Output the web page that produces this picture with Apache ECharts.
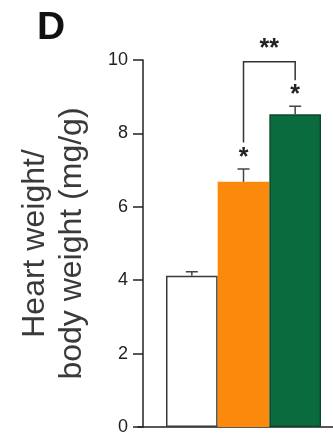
<!DOCTYPE html>
<html>
<head>
<meta charset="utf-8">
<script src="https://cdn.jsdelivr.net/npm/echarts@6/dist/echarts.min.js"></script>
<style>
html,body{margin:0;padding:0;background:#fff}
#chart{width:333px;height:438px}
</style>
</head>
<body>
<div id="chart"></div>
<script>
// groups (no x labels in the panel)
const groups = ['Control', 'Group 2', 'Group 3']
const means = [4.12, 6.68, 8.52]
const errs = [0.11, 0.35, 0.22]
const barColors = ['#ffffff', '#fb8a0c', '#0a6b3e']
const borderColors = ['#3a3a3a', '#fb8a0c', '#0d4a2c']

// stars over bars
const stars = ['', '*', '*']
const starLevels = [0, 7.5, 9.2]

// bracket between group 1 and 2: [left end, top, right end]
const bracketGroups = [1, 2]
const bracketLevels = [7.75, 9.95, 9.45]
const bracketLabel = '**'
const bracketLabelLevel = 10.45

const FONT = 'Liberation Sans, Arial, sans-serif'
const INK = '#222'

var chart = echarts.init(document.getElementById('chart'))

var option = {
  animation: false,
  title: {
    text: 'D',
    left: 32,
    top: 4,
    textStyle: { fontSize: 39, fontWeight: 'bold', fontFamily: FONT, color: '#111' }
  },
  grid: [
    { left: 166, right: 12, top: 60, bottom: 11 },
    { left: 138, right: 0, top: 60, bottom: 11 }
  ],
  xAxis: [
    {
      type: 'category',
      data: groups,
      gridIndex: 0,
      axisLine: { show: false },
      axisTick: { show: false },
      axisLabel: { show: false }
    },
    {
      type: 'value',
      gridIndex: 1,
      axisLine: { show: true, lineStyle: { color: INK, width: 1.5 } },
      axisTick: { show: false },
      axisLabel: { show: false },
      splitLine: { show: false }
    }
  ],
  yAxis: [
    {
      type: 'value',
      gridIndex: 0,
      min: 0,
      max: 10,
      interval: 2,
      offset: 23,
      name: 'Heart weight/\nbody weight (mg/g)',
      nameLocation: 'middle',
      nameGap: 52,
      nameTextStyle: { fontSize: 32, lineHeight: 37, fontFamily: FONT, color: '#3a3a3a' },
      axisLine: { show: true, lineStyle: { color: INK, width: 1.5 } },
      axisTick: { show: true, length: 10, lineStyle: { color: INK, width: 1.5 } },
      axisLabel: { fontSize: 18, margin: 15, fontFamily: FONT, color: INK },
      splitLine: { show: false }
    },
    { type: 'value', gridIndex: 1, show: false }
  ],
  series: [
    {
      type: 'bar',
      xAxisIndex: 0,
      yAxisIndex: 0,
      barCategoryGap: 0,
      data: means.map(function (v, i) {
        return {
          value: v,
          itemStyle: { color: barColors[i], borderColor: borderColors[i], borderWidth: 1.5 }
        }
      })
    },
    {
      // error bars (upper only)
      type: 'custom',
      xAxisIndex: 0,
      yAxisIndex: 0,
      z: 5,
      data: means.map(function (v, i) { return [i, v, errs[i]] }),
      renderItem: function (params, api) {
        var i = api.value(0)
        var base = api.coord([i, api.value(1)])
        var top = api.coord([i, api.value(1) + api.value(2)])
        var st = { stroke: '#444', lineWidth: 1.5 }
        return {
          type: 'group',
          children: [
            { type: 'line', shape: { x1: base[0], y1: base[1], x2: top[0], y2: top[1] }, style: st },
            { type: 'line', shape: { x1: top[0] - 6, y1: top[1], x2: top[0] + 6, y2: top[1] }, style: st }
          ]
        }
      }
    },
    {
      // significance stars
      type: 'custom',
      xAxisIndex: 0,
      yAxisIndex: 0,
      z: 6,
      data: stars.map(function (s, i) { return [i, starLevels[i], s] }),
      renderItem: function (params, api) {
        var s = stars[params.dataIndex]
        if (!s) return
        var p = api.coord([api.value(0), api.value(1)])
        return {
          type: 'text',
          x: p[0],
          y: p[1] + 6,
          style: { text: s, fontSize: 25, fontWeight: 'bold', fontFamily: FONT, fill: INK, align: 'center', verticalAlign: 'middle' }
        }
      }
    },
    {
      // bracket with label
      type: 'custom',
      xAxisIndex: 0,
      yAxisIndex: 0,
      z: 6,
      clip: false,
      data: [[bracketGroups[0], bracketGroups[1]]],
      renderItem: function (params, api) {
        var a = api.coord([bracketGroups[0], bracketLevels[0]])
        var b = api.coord([bracketGroups[0], bracketLevels[1]])
        var c = api.coord([bracketGroups[1], bracketLevels[1]])
        var d = api.coord([bracketGroups[1], bracketLevels[2]])
        var t = api.coord([bracketGroups[0], bracketLabelLevel])
        return {
          type: 'group',
          children: [
            { type: 'polyline', shape: { points: [a, b, c, d] }, style: { stroke: '#333', lineWidth: 1.5, fill: null } },
            {
              type: 'text',
              x: (b[0] + c[0]) / 2,
              y: t[1] + 6,
              style: { text: bracketLabel, fontSize: 25, fontWeight: 'bold', fontFamily: FONT, fill: INK, align: 'center', verticalAlign: 'middle' }
            }
          ]
        }
      }
    }
  ]
}

option && chart.setOption(option)
</script>
</body>
</html>
